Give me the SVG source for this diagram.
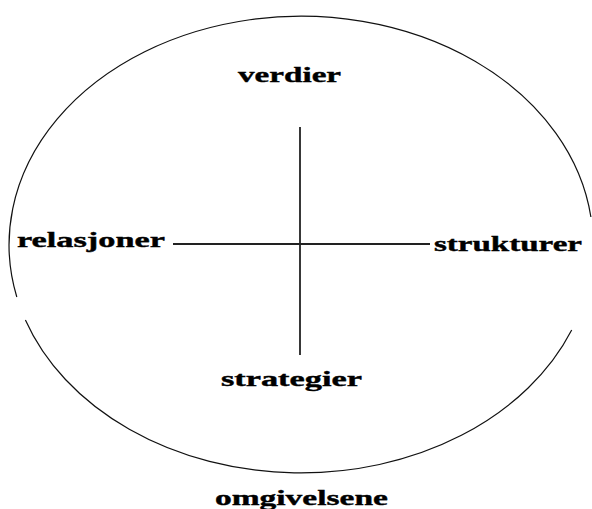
<svg xmlns="http://www.w3.org/2000/svg" width="592" height="509" viewBox="0 0 592 509">
<style>
.lbl{font-family:"Liberation Serif","Times New Roman",serif;font-weight:bold;font-size:22px;fill:#000;stroke:#000;stroke-width:0.4}
.ring{fill:none;stroke:#111;stroke-width:1.2}
.axis{stroke:#222;stroke-width:1.8;fill:none}
</style>
<rect width="592" height="509" fill="#fff"/>
<g id="omgivelsene">
<path class="ring" d="M590.9 217 A292 228.5 0 1 0 16.8 297 M25.4 320 A292 228.5 0 0 0 571.7 330"/>
<text class="lbl" transform="scale(1.5,1)" x="143.3" y="505" textLength="115.3" lengthAdjust="spacingAndGlyphs">omgivelsene</text>
</g>
<g id="connectors">
<line class="axis" x1="300" y1="127" x2="300" y2="355"/>
<line class="axis" x1="173" y1="244" x2="430" y2="244"/>
</g>
<g id="verdier"><text class="lbl" transform="scale(1.5,1)" x="158.7" y="82" textLength="68.7" lengthAdjust="spacingAndGlyphs">verdier</text></g>
<g id="relasjoner"><text class="lbl" transform="scale(1.5,1)" x="11.3" y="247" textLength="98.7" lengthAdjust="spacingAndGlyphs">relasjoner</text></g>
<g id="strukturer"><text class="lbl" transform="scale(1.5,1)" x="289.3" y="251" textLength="98.7" lengthAdjust="spacingAndGlyphs">strukturer</text></g>
<g id="strategier"><text class="lbl" transform="scale(1.5,1)" x="147.3" y="386" textLength="94" lengthAdjust="spacingAndGlyphs">strategier</text></g>
</svg>
